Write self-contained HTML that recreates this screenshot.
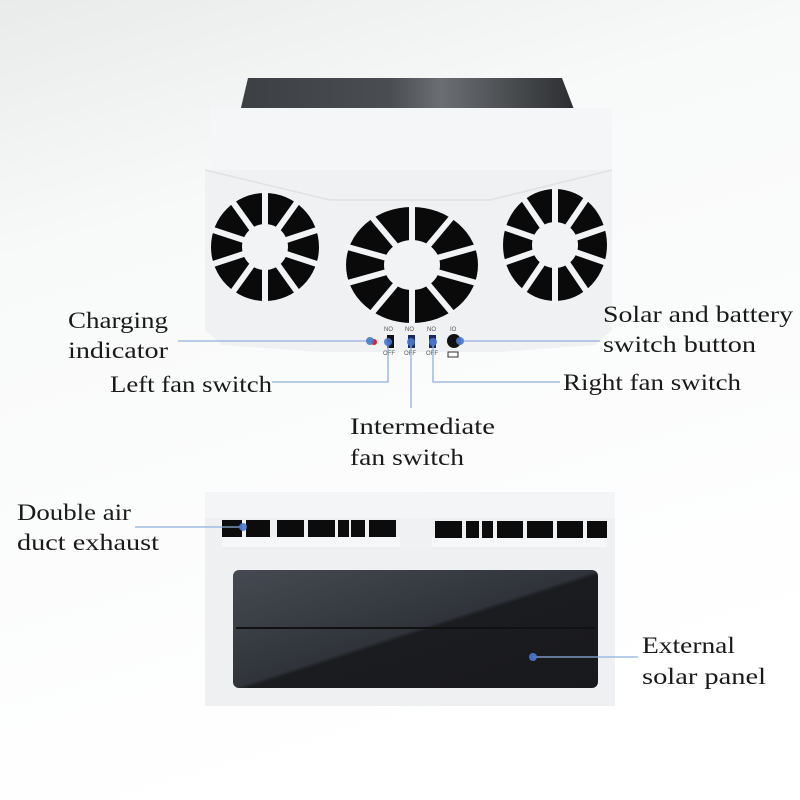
<!DOCTYPE html><html><head><style>html,body{margin:0;padding:0;background:#fff}svg{display:block}</style></head><body>
<svg width="800" height="800" viewBox="0 0 800 800" xmlns="http://www.w3.org/2000/svg" font-family="Liberation Serif, serif">
<defs>
<linearGradient id="bg" x1="0" y1="0" x2="0.3" y2="1"><stop offset="0" stop-color="#e9ebeb"/><stop offset="0.3" stop-color="#f8f9f9"/><stop offset="1" stop-color="#fff"/></linearGradient>
<linearGradient id="sp" x1="0" y1="0" x2="1" y2="1"><stop offset="0" stop-color="#454a52"/><stop offset="0.5" stop-color="#30333a"/><stop offset="0.52" stop-color="#1b1c20"/><stop offset="1" stop-color="#18191c"/></linearGradient>
<linearGradient id="tp" x1="0" y1="0" x2="1" y2="0"><stop offset="0" stop-color="#3c3f44"/><stop offset="0.45" stop-color="#4a4d52"/><stop offset="0.6" stop-color="#6b6e72"/><stop offset="1" stop-color="#2c2e31"/></linearGradient>
</defs>
<rect width="800" height="800" fill="url(#bg)"/>
<!-- top device -->
<polygon points="248,78 562,78 575,112 240,112" fill="url(#tp)"/>
<rect x="210" y="108" width="402" height="62" fill="#f5f6f7"/>
<polygon points="205,170 612,170 612,330 595,345 500,352 320,352 222,345 205,330" fill="#f0f1f2"/>
<polyline points="205,170 330,200 490,200 612,170" fill="none" stroke="#dfe1e3" stroke-width="1.5"/>
<!-- fans -->
<g>
<ellipse cx="265" cy="247" rx="54" ry="54" fill="#0a0a0a"/>
<g stroke="#f2f3f4" stroke-width="6">
<line x1="265" y1="247" x2="265" y2="190"/><line x1="265" y1="247" x2="298" y2="201"/><line x1="265" y1="247" x2="320" y2="229"/><line x1="265" y1="247" x2="320" y2="265"/><line x1="265" y1="247" x2="298" y2="293"/><line x1="265" y1="247" x2="265" y2="304"/><line x1="265" y1="247" x2="232" y2="293"/><line x1="265" y1="247" x2="210" y2="265"/><line x1="265" y1="247" x2="210" y2="229"/><line x1="265" y1="247" x2="232" y2="201"/>
</g>
<circle cx="265" cy="247" r="23" fill="#f2f3f4"/>
<ellipse cx="412" cy="265" rx="66" ry="58" fill="#0a0a0a"/>
<g stroke="#f2f3f4" stroke-width="6">
<line x1="412" y1="265" x2="412" y2="204"/><line x1="412" y1="265" x2="453" y2="216"/><line x1="412" y1="265" x2="480" y2="246"/><line x1="412" y1="265" x2="480" y2="284"/><line x1="412" y1="265" x2="453" y2="314"/><line x1="412" y1="265" x2="412" y2="326"/><line x1="412" y1="265" x2="371" y2="314"/><line x1="412" y1="265" x2="344" y2="284"/><line x1="412" y1="265" x2="344" y2="246"/><line x1="412" y1="265" x2="371" y2="216"/>
</g>
<ellipse cx="412" cy="265" rx="28" ry="25" fill="#f2f3f4"/>
<ellipse cx="555" cy="245" rx="52" ry="56" fill="#0a0a0a"/>
<g stroke="#f2f3f4" stroke-width="6">
<line x1="555" y1="245" x2="555" y2="186"/><line x1="555" y1="245" x2="587" y2="198"/><line x1="555" y1="245" x2="607" y2="227"/><line x1="555" y1="245" x2="607" y2="263"/><line x1="555" y1="245" x2="587" y2="292"/><line x1="555" y1="245" x2="555" y2="304"/><line x1="555" y1="245" x2="523" y2="292"/><line x1="555" y1="245" x2="503" y2="263"/><line x1="555" y1="245" x2="503" y2="227"/><line x1="555" y1="245" x2="523" y2="198"/>
</g>
<circle cx="555" cy="245" r="23" fill="#f2f3f4"/>
</g>
<!-- switches -->
<g font-family="Liberation Sans, sans-serif" font-size="6" fill="#555">
<text x="384" y="331">NO</text><text x="405" y="331">NO</text><text x="427" y="331">NO</text><text x="450" y="331">IO</text>
<text x="383" y="355">OFF</text><text x="404" y="355">OFF</text><text x="426" y="355">OFF</text>
</g>
<circle cx="374" cy="342" r="3" fill="#d22"/>
<rect x="387" y="335" width="7" height="13" fill="#111"/>
<rect x="408" y="335" width="7" height="13" fill="#1a2a60"/>
<rect x="429" y="335" width="7" height="13" fill="#1a2a60"/>
<circle cx="454" cy="341" r="7" fill="#111"/>
<rect x="448" y="352" width="10" height="5" fill="none" stroke="#333" stroke-width="1"/>
<!-- bottom device -->
<rect x="205" y="492" width="410" height="214" fill="#eef0f1"/>
<rect x="205" y="492" width="410" height="26" fill="#f4f5f6"/>
<rect x="222" y="537" width="385" height="10" fill="#f6f7f8"/>
<g fill="#0c0c0c">
<rect x="222" y="520" width="20" height="17"/><rect x="246" y="520" width="24" height="17"/><rect x="277" y="520" width="27" height="17"/><rect x="308" y="520" width="27" height="17"/><rect x="338" y="520" width="11" height="17"/><rect x="351" y="520" width="14" height="17"/><rect x="369" y="520" width="27" height="17"/>
<rect x="435" y="521" width="27" height="17"/><rect x="466" y="521" width="13" height="17"/><rect x="482" y="521" width="11" height="17"/><rect x="497" y="521" width="26" height="17"/><rect x="527" y="521" width="26" height="17"/><rect x="557" y="521" width="26" height="17"/><rect x="587" y="521" width="20" height="17"/>
</g>
<rect x="400" y="518" width="32" height="30" fill="#f0f1f2"/>
<rect x="233" y="570" width="365" height="118" rx="6" fill="url(#sp)"/>
<line x1="236" y1="628" x2="595" y2="628" stroke="#111" stroke-width="2"/>
<!-- connectors -->
<g stroke="#8fb0dc" stroke-width="1.3" fill="none">
<line x1="178" y1="341" x2="370" y2="341"/>
<polyline points="272,382 388,382 388,342"/>
<line x1="411" y1="342" x2="411" y2="408"/>
<polyline points="560,382 433,382 433,342"/>
<line x1="458" y1="341" x2="600" y2="341"/>
<line x1="135" y1="527" x2="243" y2="527"/>
<line x1="533" y1="657" x2="638" y2="657"/>
</g>
<g fill="#4a78d0" opacity="0.9">
<circle cx="370" cy="341" r="4"/><circle cx="388" cy="342" r="4"/><circle cx="411" cy="342" r="4"/><circle cx="433" cy="342" r="4"/><circle cx="460" cy="341" r="4"/><circle cx="243" cy="527" r="4"/><circle cx="533" cy="657" r="4"/>
</g>
<!-- labels -->
<g font-size="23" fill="#1a1a1a">
<text x="68" y="328" textLength="100" lengthAdjust="spacingAndGlyphs">Charging</text>
<text x="68" y="358" textLength="100" lengthAdjust="spacingAndGlyphs">indicator</text>
<text x="110" y="392" textLength="162" lengthAdjust="spacingAndGlyphs">Left fan switch</text>
<text x="350" y="434" textLength="145" lengthAdjust="spacingAndGlyphs">Intermediate</text>
<text x="350" y="465" textLength="114" lengthAdjust="spacingAndGlyphs">fan switch</text>
<text x="563" y="390" textLength="178" lengthAdjust="spacingAndGlyphs">Right fan switch</text>
<text x="603" y="322" textLength="190" lengthAdjust="spacingAndGlyphs">Solar and battery</text>
<text x="603" y="352" textLength="153" lengthAdjust="spacingAndGlyphs">switch button</text>
<text x="17" y="520" textLength="114" lengthAdjust="spacingAndGlyphs">Double air</text>
<text x="17" y="550" textLength="142" lengthAdjust="spacingAndGlyphs">duct exhaust</text>
<text x="642" y="653" textLength="93" lengthAdjust="spacingAndGlyphs">External</text>
<text x="642" y="684" textLength="124" lengthAdjust="spacingAndGlyphs">solar panel</text>
</g>
</svg>
</body></html>
